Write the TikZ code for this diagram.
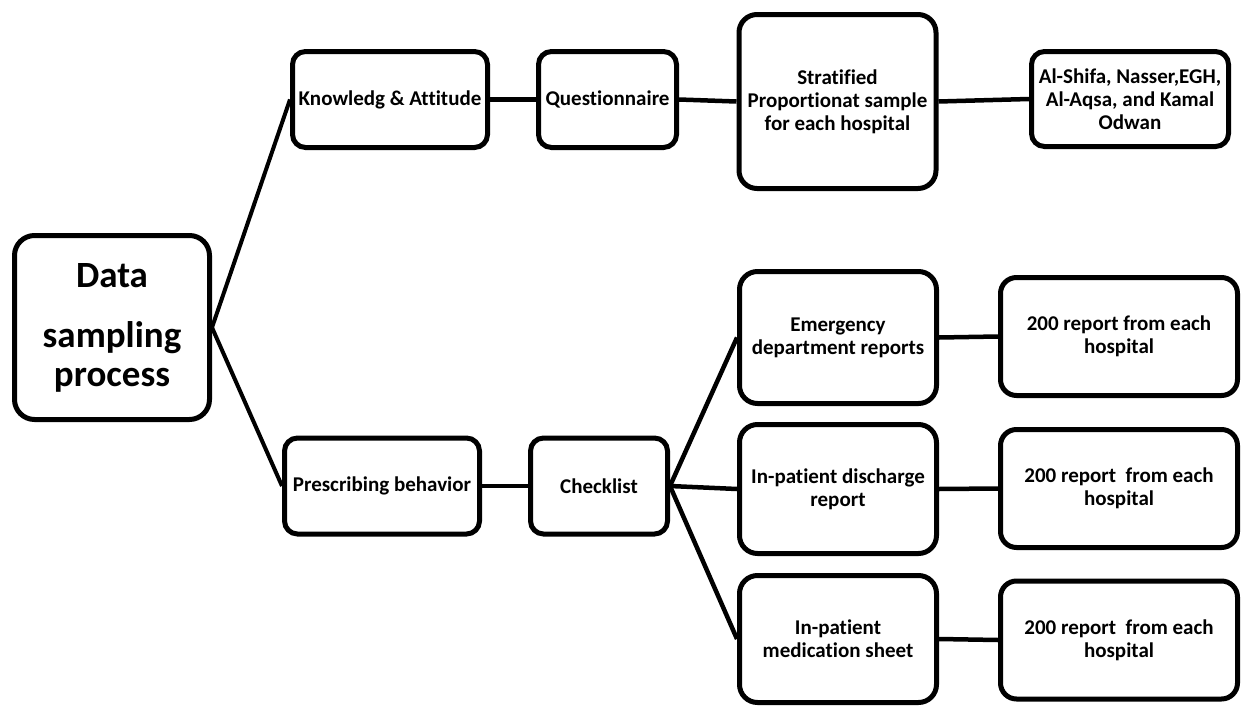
\documentclass[tikz,border=0pt]{standalone}
\usepackage{fontspec}
\setmainfont{Carlito}[Ligatures=NoCommon]
\usepackage{tikz}
\definecolor{dspInk}{RGB}{0,0,0}
\definecolor{dspPaper}{RGB}{255,255,255}

\begin{document}
\begin{tikzpicture}[
  x=1pt, y=-1pt,
  blk/.style={draw=dspInk, fill=dspPaper, line width=5pt, rounded corners=13pt,
              align=center, inner sep=2pt, text=dspInk,
              font=\fontsize{21}{23}\selectfont\bfseries},
  wide/.style={blk, minimum width=195pt, minimum height=96pt},
  narrow/.style={blk, minimum width=138pt, minimum height=96pt},
  tall/.style={blk, minimum width=197pt, rounded corners=18pt},
  rep/.style={blk, minimum width=237pt, minimum height=118pt, rounded corners=16pt},
  root/.style={blk, minimum width=195pt, minimum height=184pt, rounded corners=20pt,
               font=\fontsize{37}{39}\selectfont\bfseries},
  link/.style={draw=dspInk, line width=4.5pt},
]
  \useasboundingbox (0,0) rectangle (1243,707);

  % Root on the far left
  \node[root]   (data)  at (112, 327.5) {Data\\[21pt]sampling\\process};

  % Upper branch: survey
  \node[wide]   (know)  at (390, 99.5)  {Knowledg \& Attitude};
  \node[narrow] (quest) at (607.5, 99.5) {Questionnaire};
  \node[tall, minimum height=174pt] (strat) at (837.5, 101.5)
       {Stratified\\Proportionat sample\\for each hospital};
  \node[wide, minimum width=197pt, minimum height=95pt] (hosp) at (1130, 99)
       {Al-Shifa, Nasser,EGH,\\Al-Aqsa, and Kamal\\Odwan};

  % Lower branch: records
  \node[wide]   (presc) at (382, 486)   {Prescribing behavior};
  \node[narrow, minimum width=137pt] (check) at (599, 486) {Checklist};

  % Three record sources, each with its own count
  \node[tall, minimum height=132pt] (emerg) at (838, 337.5) {Emergency\\department reports};
  \node[tall, minimum height=129pt] (disch) at (838, 489)   {In-patient discharge\\report};
  \node[tall, minimum height=127pt] (medic) at (838, 639)   {In-patient\\medication sheet};

  \node[rep] (repA) at (1119, 336.5) {200 report from each\\hospital};
  \node[rep] (repB) at (1119, 488.5) {200 report~ from each\\hospital};
  \node[rep] (repC) at (1119, 640)   {200 report~ from each\\hospital};

  % Connectors
  \draw[link, line width=4pt] (data.east) -- (know.west);
  \draw[link, line width=4pt] (data.east) -- (presc.west);
  \draw[link] (know.east)  -- (quest.west);
  \draw[link] (quest.east) -- (strat.west);
  \draw[link] (strat.east) -- (hosp.west);
  \draw[link] (presc.east) -- (check.west);
  \draw[link] (check.east) -- (emerg.west);
  \draw[link] (check.east) -- (disch.west);
  \draw[link] (check.east) -- (medic.west);
  \draw[link] (emerg.east) -- (repA.west);
  \draw[link] (disch.east) -- (repB.west);
  \draw[link] (medic.east) -- (repC.west);
\end{tikzpicture}
\end{document}
